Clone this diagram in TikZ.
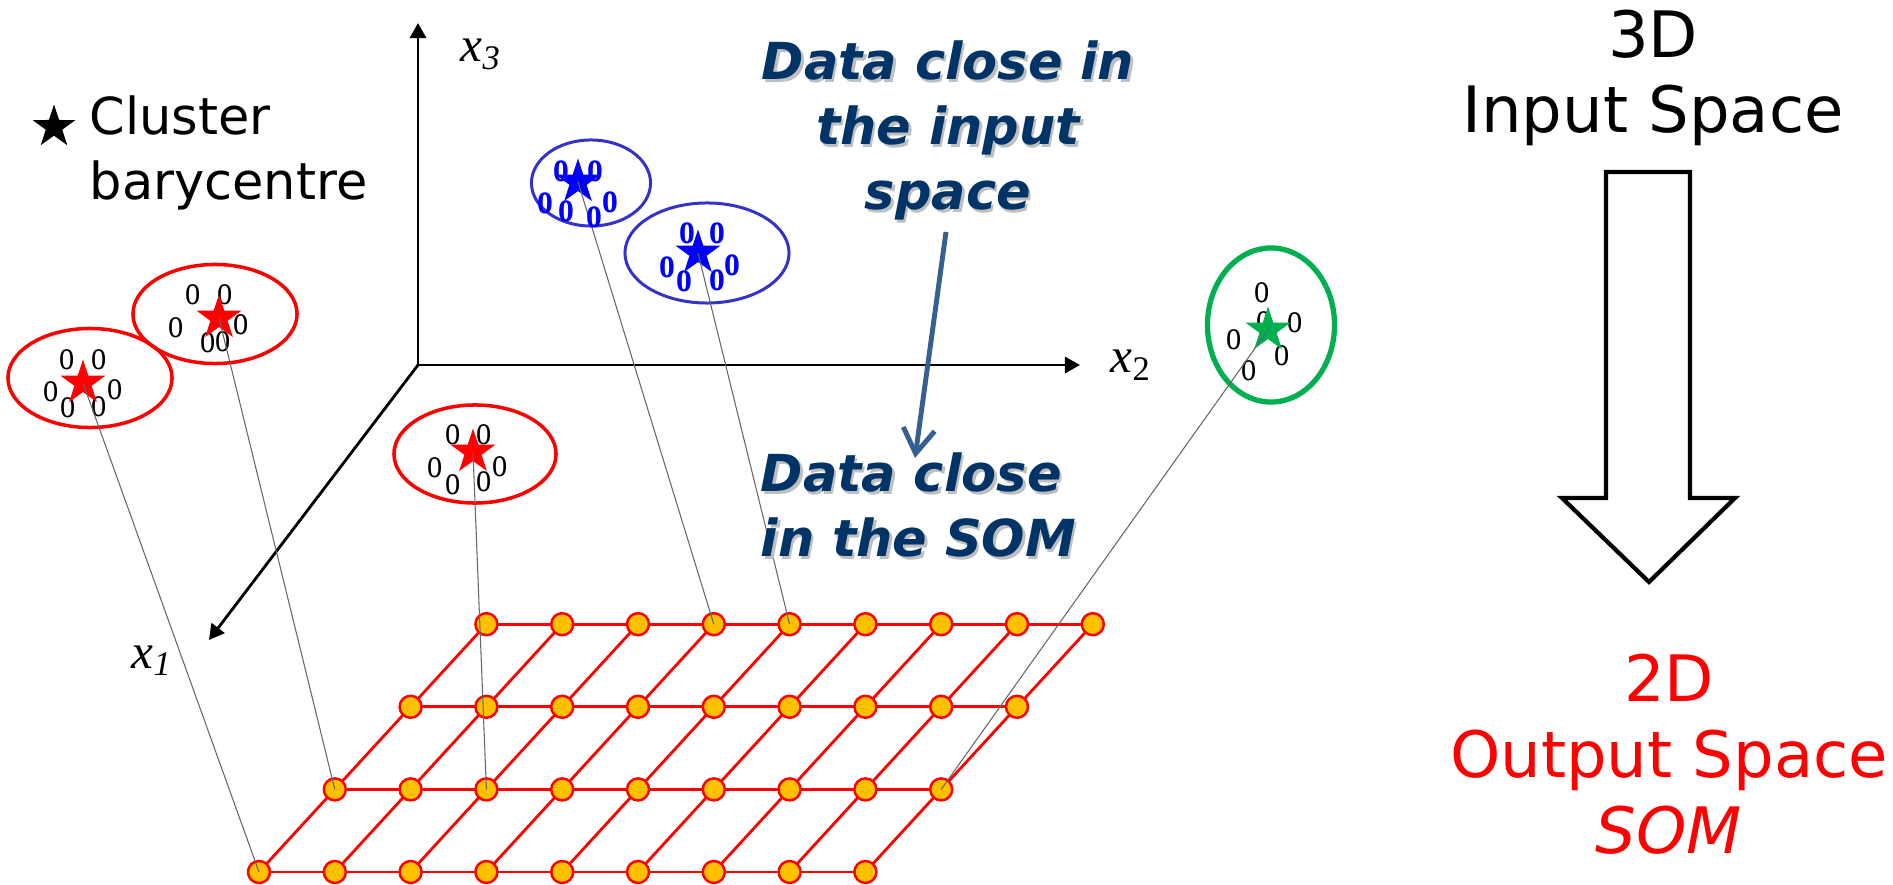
\documentclass[tikz,border=0pt]{standalone}
\usepackage{fontspec}
\setmainfont{DejaVu Sans}
\newfontfamily\tms{Liberation Serif}
\usetikzlibrary{arrows.meta}
\usetikzlibrary{shapes.geometric}
\pgfdeclarelayer{background}
\pgfsetlayers{background,main}

\definecolor{navy}{RGB}{0,51,102}
\definecolor{steel}{RGB}{55,96,146}
\definecolor{gold}{RGB}{255,192,0}
\definecolor{clblue}{RGB}{51,51,204}
\definecolor{clgreen}{RGB}{0,176,80}

% data point glyph
\newcommand{\dpt}{\scalebox{0.72}[1]{o}}

\tikzset{
  clus/.style={ellipse, draw=#1, line width=1pt, inner sep=0pt},
  bary/.style={star, star points=5, star point ratio=2.6, fill=#1, inner sep=0pt, minimum size=0.47cm},
  unit/.style={circle, draw=red, fill=gold, line width=0.7pt, inner sep=0pt, minimum size=0.22cm},
  obs/.style={inner sep=0pt, font=\fontsize{12}{12}\tms},
  bobs/.style={inner sep=0pt, text=blue, font=\fontsize{12.5}{12}\tms\bfseries},
  proj/.style={black!60, line width=0.3pt},
  axis/.style={line width=0.8pt, -{Triangle[length=4.3pt,width=4.6pt]}},
  axlbl/.style={anchor=base west, inner sep=0pt, font=\fontsize{14}{16}\tms\itshape},
  navytxt/.style={align=center, anchor=base, inner sep=0pt, font=\fontsize{14.5}{18.5}\selectfont\bfseries\itshape},
}

\begin{document}
\begin{tikzpicture}[x=0.01cm, y=-0.01cm]
\useasboundingbox (0,0) rectangle (1893,885);

% axes
\coordinate (O) at (418,365);
\coordinate (x3tip) at (418,23);
\coordinate (x2tip) at (1080,365);
\coordinate (x1tip) at (209,640);
\draw[axis] (O) -- (x3tip);
\draw[axis] (O) -- (x2tip);
\draw[axis] (O) -- (x1tip);
\node[axlbl] (x3) at (460,62) {x\textsubscript{3}};
\node[axlbl] (x2) at (1110,373) {x\textsubscript{\upshape 2}};
\node[axlbl] (x1) at (131,668) {x\textsubscript{1}};

% SOM grid
\foreach \j in {0,...,3}
  \foreach \i in {0,...,8}
    \node[unit] (g-\i-\j) at ({259+75.8*(\i+\j)},{872-82.6*\j}) {};
\begin{pgfonlayer}{background}
  \foreach \j in {0,...,3}
    \draw[red, line width=0.8pt] (g-0-\j.center) -- (g-8-\j.center);
  \foreach \i in {0,...,8}
    \draw[red, line width=0.8pt] (g-\i-0.center) -- (g-\i-3.center);
\end{pgfonlayer}

% clusters
\node[clus=red, minimum width=1.64cm, minimum height=0.99cm] (cA) at (90,378) {};
\node[clus=red, minimum width=1.64cm, minimum height=0.99cm] (cB) at (215,314) {};
\node[clus=red, minimum width=1.62cm, minimum height=0.98cm] (cC) at (475,454) {};
\node[clus=clblue, line width=0.85pt, minimum width=1.19cm, minimum height=0.86cm] (cD) at (591,183) {};
\node[clus=clblue, line width=0.85pt, minimum width=1.64cm, minimum height=1.0cm] (cE) at (707,253) {};
\node[clus=clgreen, line width=1.5pt, minimum width=1.27cm, minimum height=1.54cm] (cF) at (1271,325) {};

\foreach \p in {(67,360),(99,360),(51,392),(115,390),(68,408),(99,407)}
  \node[obs] at \p {\dpt};
\foreach \p in {(193,295),(225,295),(176,328),(241,325),(208,343),(223,342)}
  \node[obs] at \p {\dpt};
\foreach \p in {(453,435),(484,435),(435,468),(500,467),(453,485),(484,482)}
  \node[obs] at \p {\dpt};
\foreach \p in {(1262,293),(1264,322),(1295,323),(1234,340),(1282,356),(1249,371)}
  \node[obs] at \p {\dpt};

% projections onto the map
\node[bary=red] (sA) at (83,383) {};
\node[bary=red] (sB) at (219,318) {};
\node[bary=red] (sC) at (473,452) {};
\node[bary=blue] (sD) at (578,182) {};
\node[bary=blue] (sE) at (698,253) {};
\draw[proj] (sA.center) -- (g-0-0.center);
\draw[proj] (sB.center) -- (g-0-1.center);
\draw[proj] (sC.center) -- (g-2-1.center);
\draw[proj] (sD.center) -- (g-3-3.center);
\draw[proj] (sE.center) -- (g-4-3.center);
\foreach \p in {(561,171),(595,171),(545,203),(566,211),(594,217),(610,202)}
  \node[bobs] at \p {\dpt};
\foreach \p in {(687,233),(717,233),(667,267),(684,281),(717,280),(732,265)}
  \node[bobs] at \p {\dpt};
\node[bary=clgreen] (sF) at (1268,330) {};
\draw[proj] (sF.center) -- (g-8-1.center);

% legend
\node[bary=black, minimum size=0.45cm] (lstar) at (54,127) {};
\node[anchor=base west, align=left, inner sep=0pt, font=\fontsize{14.5}{18.5}\selectfont] (lbl) at (89,200) {Cluster\\barycentre};

% comments
\node[navytxt, text=black!25] at (950.5,212.5) {Data close in\\the input\\space};
\node[navytxt, text=navy] (din) at (948,210) {Data close in\\the input\\space};
\node[navytxt, text=black!25, align=left, anchor=base west] at (762.5,559.5) {Data close\\in the SOM};
\node[navytxt, text=navy, align=left, anchor=base west] (dsom) at (760,557) {Data close\\in the SOM};
\coordinate (ain) at (946,232);
\coordinate (aout) at (915,458);
\draw[steel, line width=1.4pt, -{Straight Barb[length=7pt,width=9pt]}] (ain) -- (aout);

% input / output space
\node[anchor=base, align=center, inner sep=0pt, font=\fontsize{18.2}{21.6}\selectfont] (inspace) at (1653,133) {3D\\Input Space};
\draw[line width=1.2pt] (1606,172) -- (1690,172) -- (1690,498) -- (1735,498) -- (1649,582) -- (1562,498) -- (1606,498) -- cycle;
\node[anchor=base, align=center, inner sep=0pt, text=red, font=\fontsize{18.2}{21.6}\selectfont] (outspace) at (1669,853) {2D\\Output Space\\\textit{SOM}};
\end{tikzpicture}
\end{document}
